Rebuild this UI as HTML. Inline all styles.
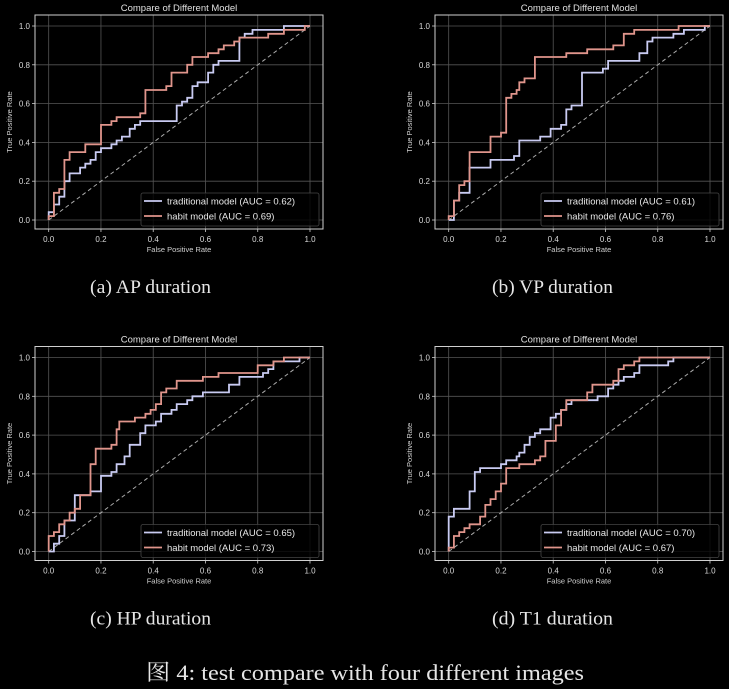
<!DOCTYPE html>
<html><head><meta charset="utf-8"><style>
body{margin:0;background:#000;width:729px;height:689px;overflow:hidden}
svg{display:block}
</style></head><body>
<svg id="fig" width="729" height="689" xmlns="http://www.w3.org/2000/svg" font-family="'Liberation Sans', sans-serif"></svg>
<script>
const ticks=[0,0.2,0.4,0.6,0.8,1.0];
const tickLabels=["0.0","0.2","0.4","0.6","0.8","1.0"];
const panelCaptions=["(a) AP duration","(b) VP duration","(c) HP duration","(d) T1 duration"];
const tradAUC=["0.62","0.61","0.65","0.70"];
const habitAUC=["0.69","0.76","0.73","0.67"];
// step points: [fpr,tpr] corners
const tradA=[[0,0],[0,0.04],[0.02,0.04],[0.02,0.08],[0.04,0.08],[0.04,0.12],[0.06,0.12],[0.06,0.2],[0.08,0.2],[0.08,0.24],[0.12,0.24],[0.12,0.27],[0.14,0.27],[0.14,0.29],[0.16,0.29],[0.16,0.31],[0.18,0.31],[0.18,0.35],[0.2,0.35],[0.2,0.37],[0.24,0.37],[0.24,0.39],[0.26,0.39],[0.26,0.41],[0.28,0.41],[0.28,0.43],[0.31,0.43],[0.31,0.47],[0.33,0.47],[0.33,0.49],[0.35,0.49],[0.35,0.51],[0.49,0.51],[0.49,0.59],[0.51,0.59],[0.51,0.61],[0.53,0.61],[0.53,0.63],[0.55,0.63],[0.55,0.69],[0.57,0.69],[0.57,0.71],[0.61,0.71],[0.61,0.76],[0.63,0.76],[0.63,0.8],[0.65,0.8],[0.65,0.82],[0.73,0.82],[0.73,0.94],[0.75,0.94],[0.75,0.96],[0.78,0.96],[0.78,0.98],[0.9,0.98],[0.9,1],[1,1]];
const habitA=[[0,0],[0,0.02],[0.02,0.02],[0.02,0.14],[0.04,0.14],[0.04,0.16],[0.06,0.16],[0.06,0.31],[0.08,0.31],[0.08,0.35],[0.14,0.35],[0.14,0.39],[0.2,0.39],[0.2,0.49],[0.24,0.49],[0.24,0.51],[0.26,0.51],[0.26,0.53],[0.35,0.53],[0.35,0.55],[0.37,0.55],[0.37,0.67],[0.45,0.67],[0.45,0.69],[0.47,0.69],[0.47,0.76],[0.53,0.76],[0.53,0.8],[0.55,0.8],[0.55,0.84],[0.61,0.84],[0.61,0.86],[0.65,0.86],[0.65,0.88],[0.67,0.88],[0.67,0.9],[0.71,0.9],[0.71,0.92],[0.73,0.92],[0.73,0.94],[0.84,0.94],[0.84,0.96],[0.9,0.96],[0.9,0.98],[0.98,0.98],[0.98,1],[1,1]];
const tradB=[[0,0],[0.02,0],[0.02,0.02],[0.02,0.1],[0.04,0.1],[0.04,0.14],[0.08,0.14],[0.08,0.27],[0.16,0.27],[0.16,0.31],[0.25,0.31],[0.25,0.33],[0.27,0.33],[0.27,0.41],[0.35,0.41],[0.35,0.43],[0.39,0.43],[0.39,0.47],[0.43,0.47],[0.43,0.49],[0.45,0.49],[0.45,0.57],[0.47,0.57],[0.47,0.59],[0.51,0.59],[0.51,0.76],[0.59,0.76],[0.59,0.78],[0.61,0.78],[0.61,0.82],[0.73,0.82],[0.73,0.86],[0.76,0.86],[0.76,0.92],[0.78,0.92],[0.78,0.94],[0.86,0.94],[0.86,0.96],[0.9,0.96],[0.9,0.98],[0.98,0.98],[0.98,1],[1,1]];
const habitB=[[0,0],[0,0.02],[0.02,0.02],[0.02,0.1],[0.04,0.1],[0.04,0.18],[0.06,0.18],[0.06,0.2],[0.08,0.2],[0.08,0.35],[0.16,0.35],[0.16,0.43],[0.2,0.43],[0.2,0.45],[0.22,0.45],[0.22,0.63],[0.24,0.63],[0.24,0.65],[0.26,0.65],[0.26,0.67],[0.27,0.67],[0.27,0.71],[0.29,0.71],[0.29,0.73],[0.33,0.73],[0.33,0.84],[0.45,0.84],[0.45,0.86],[0.53,0.86],[0.53,0.88],[0.63,0.88],[0.63,0.9],[0.67,0.9],[0.67,0.96],[0.71,0.96],[0.71,0.98],[0.88,0.98],[0.88,1],[1,1]];
const tradC=[[0,0],[0.02,0],[0.02,0.04],[0.04,0.04],[0.04,0.08],[0.06,0.08],[0.06,0.16],[0.1,0.16],[0.1,0.29],[0.16,0.29],[0.16,0.31],[0.2,0.31],[0.2,0.39],[0.24,0.39],[0.24,0.41],[0.26,0.41],[0.26,0.45],[0.29,0.45],[0.29,0.49],[0.31,0.49],[0.31,0.55],[0.35,0.55],[0.35,0.61],[0.37,0.61],[0.37,0.65],[0.41,0.65],[0.41,0.67],[0.43,0.67],[0.43,0.71],[0.47,0.71],[0.47,0.73],[0.49,0.73],[0.49,0.76],[0.53,0.76],[0.53,0.78],[0.55,0.78],[0.55,0.8],[0.59,0.8],[0.59,0.82],[0.69,0.82],[0.69,0.86],[0.73,0.86],[0.73,0.9],[0.82,0.9],[0.82,0.92],[0.84,0.92],[0.84,0.94],[0.86,0.94],[0.86,0.98],[0.96,0.98],[0.96,1],[1,1]];
const habitC=[[0,0],[0,0.08],[0.02,0.08],[0.02,0.1],[0.04,0.1],[0.04,0.14],[0.06,0.14],[0.06,0.16],[0.08,0.16],[0.08,0.2],[0.1,0.2],[0.1,0.22],[0.12,0.22],[0.12,0.29],[0.16,0.29],[0.16,0.45],[0.18,0.45],[0.18,0.53],[0.24,0.53],[0.24,0.55],[0.26,0.55],[0.26,0.63],[0.27,0.63],[0.27,0.67],[0.33,0.67],[0.33,0.69],[0.37,0.69],[0.37,0.71],[0.39,0.71],[0.39,0.73],[0.41,0.73],[0.41,0.76],[0.43,0.76],[0.43,0.82],[0.45,0.82],[0.45,0.84],[0.49,0.84],[0.49,0.88],[0.59,0.88],[0.59,0.9],[0.65,0.9],[0.65,0.92],[0.8,0.92],[0.8,0.96],[0.86,0.96],[0.86,0.98],[0.9,0.98],[0.9,1],[1,1]];
const tradD=[[0,0],[0,0.18],[0.02,0.18],[0.02,0.22],[0.08,0.22],[0.08,0.31],[0.1,0.31],[0.1,0.41],[0.12,0.41],[0.12,0.43],[0.2,0.43],[0.2,0.45],[0.22,0.45],[0.22,0.47],[0.26,0.47],[0.26,0.49],[0.27,0.49],[0.27,0.51],[0.29,0.51],[0.29,0.55],[0.31,0.55],[0.31,0.59],[0.33,0.59],[0.33,0.61],[0.35,0.61],[0.35,0.63],[0.39,0.63],[0.39,0.69],[0.41,0.69],[0.41,0.71],[0.43,0.71],[0.43,0.73],[0.45,0.73],[0.45,0.76],[0.47,0.76],[0.47,0.78],[0.57,0.78],[0.57,0.8],[0.61,0.8],[0.61,0.84],[0.63,0.84],[0.63,0.86],[0.65,0.86],[0.65,0.88],[0.67,0.88],[0.67,0.9],[0.71,0.9],[0.71,0.92],[0.73,0.92],[0.73,0.96],[0.84,0.96],[0.84,0.98],[0.86,0.98],[0.86,1],[1,1]];
const habitD=[[0,0],[0,0.02],[0.02,0.02],[0.02,0.08],[0.04,0.08],[0.04,0.1],[0.06,0.1],[0.06,0.12],[0.08,0.12],[0.08,0.14],[0.12,0.14],[0.12,0.18],[0.14,0.18],[0.14,0.24],[0.16,0.24],[0.16,0.27],[0.18,0.27],[0.18,0.31],[0.2,0.31],[0.2,0.35],[0.22,0.35],[0.22,0.43],[0.27,0.43],[0.27,0.45],[0.33,0.45],[0.33,0.47],[0.35,0.47],[0.35,0.49],[0.37,0.49],[0.37,0.57],[0.41,0.57],[0.41,0.65],[0.43,0.65],[0.43,0.73],[0.45,0.73],[0.45,0.78],[0.53,0.78],[0.53,0.82],[0.55,0.82],[0.55,0.86],[0.63,0.86],[0.63,0.88],[0.65,0.88],[0.65,0.94],[0.67,0.94],[0.67,0.96],[0.71,0.96],[0.71,0.98],[0.73,0.98],[0.73,1],[1,1]];
const tradSeries=[tradA,tradB,tradC,tradD];
const habitSeries=[habitA,habitB,habitC,habitD];

const NS="http://www.w3.org/2000/svg";
const fig=document.getElementById('fig');
function mk(tag,attrs,parent,text){const e=document.createElementNS(NS,tag);for(const k in attrs)e.setAttribute(k,attrs[k]);if(text!==undefined)e.textContent=text;parent.appendChild(e);return e;}
const offs=[[0,0],[400,0],[0,331.5],[400,331.5]];
const BLUE="#c9cbf2",RED="#e0958c";
offs.forEach((o,i)=>{
  const ox=o[0],oy=o[1];
  const X0=48.7+ox,XW=261.3,Y0=220+oy,YH=194;
  const sx=v=>X0+v*XW, sy=v=>Y0-v*YH;
  const g=mk('g',{},fig);
  
  
  ticks.forEach((t,k)=>{
    const gx=mk('line',{x1:sx(t),x2:sx(t),y1:15+oy,y2:229+oy,stroke:'#555','stroke-width':0.8},g);
    
    const gy=mk('line',{x1:35+ox,x2:323+ox,y1:sy(t),y2:sy(t),stroke:'#555','stroke-width':0.8},g);
    
    const xl=mk('text',{x:sx(t),y:242+oy,fill:'#d8d8d8','font-size':8,'text-anchor':'middle'},g,tickLabels[k]);
    
    const yl=mk('text',{x:30+ox,y:sy(t)+3,fill:'#d8d8d8','font-size':8,'text-anchor':'end'},g,tickLabels[k]);
    
    mk('line',{x1:sx(t),x2:sx(t),y1:229+oy,y2:232+oy,stroke:'#ccc','stroke-width':0.8},g);
    mk('line',{x1:32+ox,x2:35+ox,y1:sy(t),y2:sy(t),stroke:'#ccc','stroke-width':0.8},g);
  });
  const diag=mk('line',{x1:sx(0),y1:sy(0),x2:sx(1),y2:sy(1),stroke:'#aaa','stroke-width':1,'stroke-dasharray':'4,3'},g);
  
  const pts=s=>s.map(p=>sx(p[0]).toFixed(1)+','+sy(p[1]).toFixed(1)).join(' ');
  const lt=mk('polyline',{points:pts(tradSeries[i]),fill:'none',stroke:BLUE,'stroke-width':1.8},g);
  
  const lh=mk('polyline',{points:pts(habitSeries[i]),fill:'none',stroke:RED,'stroke-width':1.8},g);
  
  const box=mk('rect',{x:35+ox,y:15+oy,width:288,height:214,fill:'none',stroke:'#d0d0d0','stroke-width':1},g);
  
  const tt=mk('text',{x:179+ox,y:11+oy,fill:'#e0e0e0','font-size':9.5,'text-anchor':'middle'},g,'Compare of Different Model');
  
  const xt=mk('text',{x:179+ox,y:252+oy,fill:'#d0d0d0','font-size':7.5,'text-anchor':'middle'},g,'False Positive Rate');
  
  const yt=mk('text',{x:0,y:0,fill:'#d0d0d0','font-size':7.5,'text-anchor':'middle',transform:'translate('+(12+ox)+','+(122+oy)+') rotate(-90)'},g,'True Positive Rate');
  
  const lg=mk('g',{},g);
  
  mk('rect',{x:141+ox,y:193+oy,width:178,height:33,rx:2,fill:'#000','fill-opacity':0.8,stroke:'#444','stroke-width':0.8},lg);
  mk('line',{x1:144+ox,x2:162+ox,y1:201+oy,y2:201+oy,stroke:BLUE,'stroke-width':1.8},lg);
  mk('line',{x1:144+ox,x2:162+ox,y1:216+oy,y2:216+oy,stroke:RED,'stroke-width':1.8},lg);
  const e1=mk('text',{x:167+ox,y:204.5+oy,fill:'#e8e8e8','font-size':9.5},lg,'traditional model (AUC = '+tradAUC[i]+')');
  
  const e2=mk('text',{x:167+ox,y:219.5+oy,fill:'#e8e8e8','font-size':9.5},lg,'habit model (AUC = '+habitAUC[i]+')');
  
  const cap=mk('text',{x:90+ox+(i%2?2:0),y:293+oy,fill:'#e6e6e6','font-size':18.5,'font-family':"'Liberation Serif', serif",textLength:121,lengthAdjust:'spacingAndGlyphs'},g,panelCaptions[i]);
  
});
const fc=mk('text',{x:146,y:680,fill:'#e6e6e6','font-size':22,'font-family':"'Liberation Serif', 'Noto Serif CJK SC', serif",textLength:438,lengthAdjust:'spacingAndGlyphs'},fig,'图 4: test compare with four different images');

</script>
</body></html>
